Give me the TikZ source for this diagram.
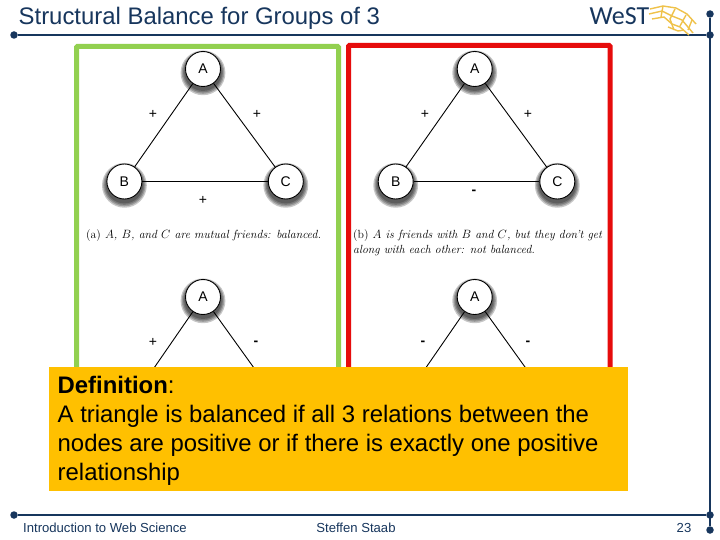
\documentclass[tikz,border=0pt]{standalone}
\usepackage{amsmath}
\usepackage{fontspec}
\setsansfont{Liberation Sans}
\newfontfamily\logofont{Carlito}
\usetikzlibrary{shadows}
\definecolor{slidenavy}{HTML}{17365D}
\definecolor{slidegreen}{HTML}{92D050}
\definecolor{slidered}{HTML}{E60C0C}
\definecolor{slideamber}{HTML}{FFC000}
\definecolor{slidegold}{HTML}{EFC24A}
\tikzset{
	halo/.style={general shadow={fill=black,fill opacity=0.22,shadow scale=#1,shadow yshift=-3pt}},
	person/.style={circle,draw,fill=white,line width=0.9,minimum size=35,inner sep=0,font=\sffamily\fontsize{14}{14}\selectfont,halo=1.28,halo=1.21,halo=1.14,halo=1.07},
	tie/.style={line width=0.9},
	sign/.style={font=\sffamily\fontsize{14}{14}\selectfont},
	caption/.style={font=\itshape\fontsize{11.8}{15}\selectfont,anchor=base west,inner sep=0},
	rule/.style={slidenavy,line width=2.8},
	dot/.style={circle,fill=slidenavy,inner sep=0,minimum size=7.5},
	footer/.style={font=\sffamily\fontsize{13.1}{13.1}\selectfont,text=slidenavy,anchor=base,inner sep=0},
	frame/.style={line width=5,rounded corners=1},
	spark/.style={slidegold,line width=1.4}
}
\begin{document}
\begin{tikzpicture}[x=1pt,y=-1pt]
	\useasboundingbox (0,0) rectangle (720,540);
	\fill[white] (0,0) rectangle (720,540);
	% slide furniture
	\node[dot] (tl) at (14,35) {};
	\node[dot] (tr) at (710,35) {};
	\node[dot] (bl) at (14,515) {};
	\node[dot] (br) at (710,515) {};
	\node[dot] (up) at (710,14) {};
	\node[dot] (down) at (710,530) {};
	\draw[rule] (tl) -- (tr);
	\draw[rule] (bl) -- (br);
	\draw[rule] (up) -- (down);
	\node[font=\sffamily\fontsize{23.9}{23.9}\selectfont,text=slidenavy,anchor=base west,inner sep=0] (title) at (18.5,24.5) {Structural Balance for Groups of 3};
	\node[font=\logofont\fontsize{26}{26}\selectfont,text=slidenavy,anchor=base west,inner sep=0] (logo) at (589.5,24.5) {WeST};
	% logo sparks
	\draw[spark] (650,9) -- (663,6) -- (676,8) -- (687,14) -- (696,24);
	\draw[spark] (649,14) -- (662,11) -- (672,16) -- (682,20) -- (693,33);
	\draw[spark] (652,19) -- (664,17) -- (672,24) -- (680,27) -- (689,35);
	\draw[spark] (663,6) -- (661,17);
	\draw[spark] (675,9) -- (670,19) -- (674,30);
	\draw[spark] (686,15) -- (680,26);
	\draw[spark] (692,20) -- (688,30);
	\draw[spark] (668,27) -- (678,31) -- (684,30);
	% frames
	\draw[frame,slidegreen] (76.5,368) -- (76.5,46.5) -- (338.5,46.5) -- (338.5,368);
	\draw[frame,slidered] (348.5,368) -- (348.5,45.5) -- (610,45.5) -- (610,368);
	% all friends
	\node[person] (a1) at (203,69) {A};
	\node[person] (b1) at (124.4,181.5) {B};
	\node[person] (c1) at (285.8,181.5) {C};
	\draw[tie] (a1) -- (b1);
	\draw[tie] (a1) -- (c1);
	\draw[tie] (b1) -- (c1);
	\node[sign] (ab1) at (153,114) {+};
	\node[sign] (ac1) at (257,114) {+};
	\node[sign] (bc1) at (203,200) {+};
	\node[caption] (cap1) at (86,239) {{\upshape(a)} $A$, $B$, and $C$ are mutual friends: balanced.};
	% two friends
	\node[person] (a2) at (474.7,69) {A};
	\node[person] (b2) at (395.7,181.5) {B};
	\node[person] (c2) at (557.3,181.5) {C};
	\draw[tie] (a2) -- (b2);
	\draw[tie] (a2) -- (c2);
	\draw[tie] (b2) -- (c2);
	\node[sign] (ab2) at (425,114) {+};
	\node[sign] (ac2) at (528,114) {+};
	\node[sign] (bc2) at (474,192.5) {\textbf{-}};
	\node[caption] (cap2) at (353,239) {{\upshape(b)} $A$ is friends with $B$ and $C$, but they don't get};
	\node[caption] (cap3) at (353,254) {along with each other: not balanced.};
	% lower pair, running under the box
	\node[person] (a3) at (203,297) {A};
	\coordinate (b3) at (154,368);
	\coordinate (c3) at (254,368);
	\draw[tie] (a3) -- (b3);
	\draw[tie] (a3) -- (c3);
	\node[sign] (ab3) at (153,342) {+};
	\node[sign] (ac3) at (256,343) {\textbf{-}};
	\node[person] (a4) at (474.7,297) {A};
	\coordinate (b4) at (425.7,368);
	\coordinate (c4) at (525.7,368);
	\draw[tie] (a4) -- (b4);
	\draw[tie] (a4) -- (c4);
	\node[sign] (ab4) at (423,343) {\textbf{-}};
	\node[sign] (ac4) at (528,343) {\textbf{-}};
	% definition
	\fill[slideamber] (49,367) rectangle (628,490.7);
	\node[anchor=north west,inner sep=0,align=left,font=\sffamily\fontsize{23.9}{29}\selectfont,text=black] (def) at (57.5,376) {\textbf{Definition}:\\A triangle is balanced if all 3 relations between the\\nodes are positive or if there is exactly one positive\\relationship};
	% footer
	\node[footer,anchor=base west] (f1) at (23,532) {Introduction to Web Science};
	\node[footer] (f2) at (356,532) {Steffen Staab};
	\node[footer] (f3) at (684,532) {23};
\end{tikzpicture}
\end{document}
